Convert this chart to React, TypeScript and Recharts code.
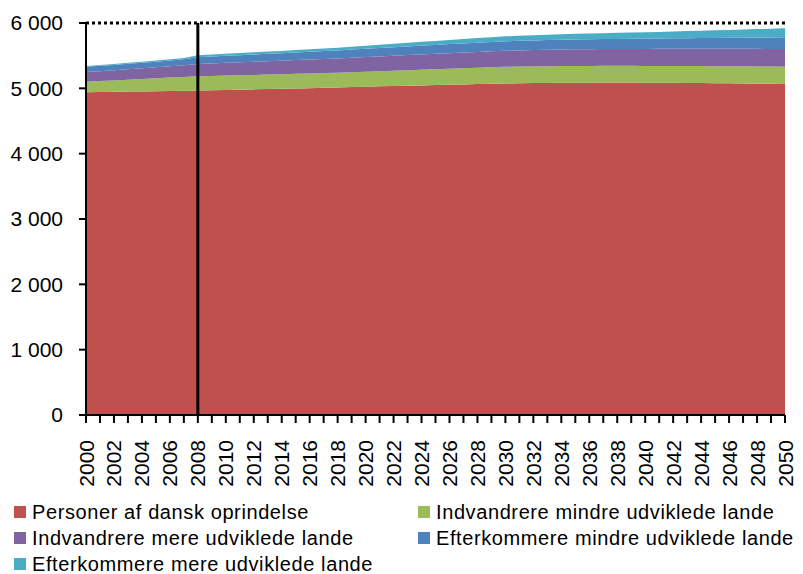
import React from 'react';
import {
  AreaChart,
  Area,
  XAxis,
  YAxis,
  ReferenceLine,
  Legend,
} from 'recharts';

const years = Array.from({ length: 51 }, (_, i) => 2000 + i);

// values in thousands
const dansk = [
  4940, 4943, 4946, 4950, 4953, 4956, 4959, 4962, 4968, 4972,
  4976, 4980, 4984, 4989, 4993, 4998, 5003, 5008, 5013, 5019,
  5024, 5030, 5035, 5040, 5045, 5050, 5055, 5060, 5065, 5070,
  5075, 5078, 5081, 5083, 5085, 5086, 5087, 5088, 5088, 5088,
  5087, 5086, 5084, 5082, 5080, 5078, 5076, 5074, 5072, 5069,
  5066,
];
const indvMindre = [
  162, 168, 175, 182, 190, 198, 206, 212, 217, 218,
  219, 220, 221, 222, 223, 224, 225, 226, 227, 228,
  230, 232, 235, 237, 240, 242, 245, 247, 250, 252,
  254, 255, 255, 256, 256, 256, 256, 256, 256, 256,
  256, 257, 258, 259, 260, 261, 262, 263, 264, 265,
  266,
];
const indvMere = [
  148, 152, 156, 160, 164, 168, 173, 178, 188, 192,
  195, 198, 201, 204, 207, 210, 213, 216, 218, 221,
  224, 227, 229, 232, 234, 236, 238, 240, 242, 244,
  246, 248, 250, 252, 253, 255, 256, 257, 258, 259,
  260, 261, 262, 263, 264, 265, 266, 267, 268, 269,
  270,
];
const eftMindre = [
  80, 81, 82, 83, 84, 86, 88, 92, 104, 106,
  108, 110, 112, 113, 115, 117, 119, 121, 123, 125,
  127, 129, 131, 133, 135, 137, 139, 140, 142, 143,
  145, 146, 148, 149, 150, 152, 153, 154, 155, 157,
  158, 160, 162, 164, 166, 168, 170, 172, 174, 176,
  178,
];
const eftMere = [
  12, 13, 14, 15, 16, 17, 18, 20, 28, 30,
  31, 32, 33, 34, 35, 37, 38, 40, 42, 44,
  46, 49, 52, 55, 58, 61, 64, 67, 70, 73,
  76, 78, 80, 82, 84, 86, 88, 90, 92, 94,
  96, 100, 104, 108, 112, 116, 120, 124, 129, 134,
  139,
];

const yTicks = [0, 1000, 2000, 3000, 4000, 5000, 6000];

const SERIES = [
  { key: 'dansk', name: 'Personer af dansk oprindelse', color: '#C0504D' },
  { key: 'indvMindre', name: 'Indvandrere mindre udviklede lande', color: '#9BBB59' },
  { key: 'indvMere', name: 'Indvandrere mere udviklede lande', color: '#8064A2' },
  { key: 'eftMindre', name: 'Efterkommere mindre udviklede lande', color: '#4F81BD' },
  { key: 'eftMere', name: 'Efterkommere mere udviklede lande', color: '#4BACC6' },
];

const data = years.map((year, i) => ({
  year,
  dansk: dansk[i],
  indvMindre: indvMindre[i],
  indvMere: indvMere[i],
  eftMindre: eftMindre[i],
  eftMere: eftMere[i],
}));

const FONT = '"Liberation Sans", Arial, sans-serif';

const fmtThousands = (v: number) =>
  v >= 1000 ? `${Math.floor(v / 1000)} ${String(v % 1000).padStart(3, '0')}` : String(v);

const YearTick = (props: any) => {
  const { x, y, payload } = props;
  if (payload.value % 2 !== 0) return null;
  return (
    <text
      transform={`translate(${x + 7.5},${y + 17}) rotate(-90)`}
      textAnchor="end"
      fontSize={21}
      fontFamily={FONT}
      fill="#000"
    >
      {payload.value}
    </text>
  );
};

// order in picture: left column then right column, row by row
const legendOrder = [0, 1, 2, 3, 4];

const renderLegend = () => (
  <div
    style={{
      display: 'grid',
      gridTemplateColumns: '403px 400px',
      paddingTop: 9,
      fontFamily: FONT,
      fontSize: 20,
      letterSpacing: 0.6,
      color: '#000',
    }}
  >
    {legendOrder.map((i) => {
      const s = SERIES[i];
      return (
        <div
          key={s.key}
          style={{
            display: 'flex',
            alignItems: 'center',
            height: 26,
            paddingLeft: i % 2 === 0 ? 14 : 15,
            whiteSpace: 'nowrap',
          }}
        >
          <span
            style={{
              width: 12,
              height: 12,
              background: s.color,
              marginRight: 6,
              display: 'inline-block',
            }}
          />
          {s.name}
        </div>
      );
    })}
  </div>
);

export default function App() {
  return (
    <div style={{ position: 'absolute', left: 0, top: 0, width: 803, height: 574, background: '#fff' }}>
      <AreaChart
        width={803}
        height={574}
        data={data}
        margin={{ top: 23, right: 18, bottom: 0, left: 0 }}
      >
        <XAxis
          dataKey="year"
          type="number"
          domain={[2000, 2050]}
          ticks={years}
          interval={0}
          height={75}
          tickSize={8}
          tickMargin={0}
          tickLine={{ stroke: '#000', strokeWidth: 2 }}
          axisLine={{ stroke: '#000', strokeWidth: 2 }}
          tick={<YearTick />}
        />
        <YAxis
          type="number"
          domain={[0, 6000]}
          ticks={yTicks}
          width={86}
          tickSize={7}
          tickMargin={16}
          tickFormatter={fmtThousands}
          tickLine={{ stroke: '#000', strokeWidth: 2 }}
          axisLine={{ stroke: '#000', strokeWidth: 2 }}
          tick={{ fill: '#000', fontSize: 21, fontFamily: FONT }}
        />
        {SERIES.map((s) => (
          <Area
            key={s.key}
            type="linear"
            dataKey={s.key}
            name={s.name}
            stackId="1"
            fill={s.color}
            fillOpacity={1}
            stroke="none"
            isAnimationActive={false}
          />
        ))}
        <ReferenceLine y={6000} stroke="#000" strokeWidth={3} strokeDasharray="3 3" />
        <ReferenceLine x={2008} stroke="#000" strokeWidth={3} />
        <ReferenceLine x={2000} stroke="#000" strokeWidth={2} />
        <Legend
          verticalAlign="bottom"
          content={renderLegend}
          wrapperStyle={{ left: 0, width: 803, height: 84 }}
        />
      </AreaChart>
    </div>
  );
}
